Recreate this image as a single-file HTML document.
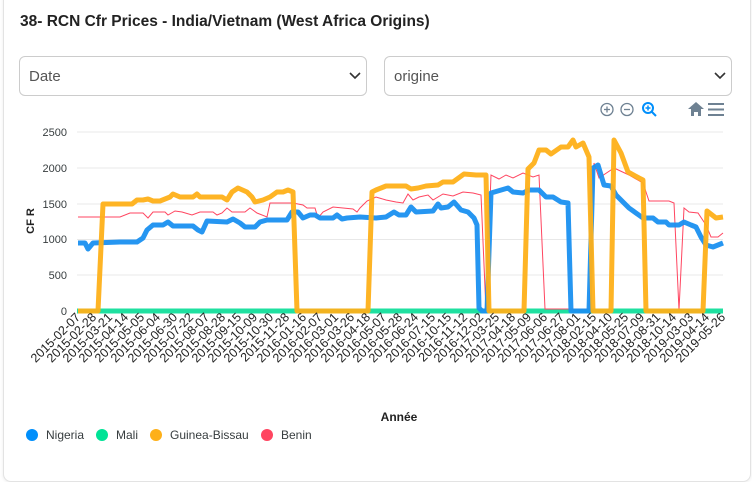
<!DOCTYPE html>
<html><head><meta charset="utf-8"><style>
body{margin:0;background:#fff;font-family:"Liberation Sans",sans-serif;}
.card{position:absolute;left:3px;top:-10px;width:746px;height:490px;border:1px solid #e3e3e3;border-radius:8px;box-shadow:0 1px 3px rgba(0,0,0,.08);background:#fff;}
.title{position:absolute;left:20px;top:13px;font-size:15.5px;font-weight:bold;color:#222;}
.sel{position:absolute;top:56px;height:40px;border:1px solid #ccc;border-radius:6px;box-sizing:border-box;font-size:15px;color:#555;padding:11px 9px;}
</style></head><body>
<div class="card"></div>
<div class="title">38- RCN Cfr Prices - India/Vietnam (West Africa Origins)</div>
<div class="sel" style="left:19px;width:348px">Date</div>
<div class="sel" style="left:384px;width:348px">origine</div>
<svg width="752" height="482" style="position:absolute;left:0;top:0" xmlns="http://www.w3.org/2000/svg" font-family="Liberation Sans, sans-serif">
<g stroke="#333" stroke-width="1.6" fill="none"><polyline points="350,73 355,78 360,73"/><polyline points="715,73 720,78 725,73"/></g>
<g stroke="#6e8192" stroke-width="1.3" fill="none">
<circle cx="607" cy="109.5" r="6"/><line x1="604" y1="109.5" x2="610" y2="109.5"/><line x1="607" y1="106.5" x2="607" y2="112.5"/>
<circle cx="627" cy="109.5" r="6"/><line x1="624" y1="109.5" x2="630" y2="109.5"/>
</g>
<g stroke="#008ffb" stroke-width="2" fill="none"><circle cx="648" cy="108" r="5"/><line x1="652" y1="112" x2="656" y2="116"/><line x1="645.5" y1="108" x2="650.5" y2="108" stroke-width="1.5"/><line x1="648" y1="105.5" x2="648" y2="110.5" stroke-width="1.5"/></g>
<path d="M688 109 L696 102 L704 109 L701 109 L701 116 L698 116 L698 112 L694 112 L694 116 L691 116 L691 109Z" fill="#6e8192"/>
<g stroke="#6e8192" stroke-width="2"><line x1="708" y1="104" x2="724" y2="104"/><line x1="708" y1="109.5" x2="724" y2="109.5"/><line x1="708" y1="115" x2="724" y2="115"/></g>
<g stroke="#e8e8e8" stroke-width="1">
<line x1="77" y1="132" x2="723" y2="132"/><line x1="77" y1="168" x2="723" y2="168"/><line x1="77" y1="204" x2="723" y2="204"/><line x1="77" y1="239.5" x2="723" y2="239.5"/><line x1="77" y1="275" x2="723" y2="275"/>
</g>
<g font-size="11" fill="#373d3f" text-anchor="end">
<text x="67" y="136">2500</text><text x="67" y="172">2000</text><text x="67" y="208">1500</text><text x="67" y="243">1000</text><text x="67" y="279">500</text><text x="67" y="315">0</text>
</g>
<text transform="translate(34,221) rotate(-90)" font-size="11" font-weight="bold" text-anchor="middle" fill="#222">CF R</text>
<line x1="77" y1="311" x2="723" y2="311" stroke="#1fe0a0" stroke-width="5"/>
<polyline fill="none" stroke="#ff4560" stroke-width="1" points="78,217 120,217 130,213 143,213 148,218 153,212 165,212 168,215 175,211 182,212 192,215 200,212 213,212 217,215 222,213 227,208 232,212 245,212 250,208 257,213 267,217 270,203 293,203 303,205 307,208 315,208 318,218 323,212 333,207 343,208 353,209 357,212 360,208 367,201 376,197 386,200 396,202 403,203 408,194 413,200 419,197 428,195 433,200 443,194 453,196 463,192 473,193 481,195 486,311 491,175 499,179 506,175 513,178 523,173 533,177 539,175 545,309 589,309 594,163 599,178 614,168 629,175 643,183 649,201 669,201 674,203 679,310 684,208 689,212 698,213 706,225 711,237 718,237 723,233"/>
<polyline fill="none" stroke="#1a90f0" stroke-width="5" stroke-linejoin="round" opacity="0.95" points="78,243 85,243 88,249 93,243 120,242 137,242 143,238 147,230 153,225 163,225 168,222 173,226 193,226 198,230 202,232 207,221 227,222 233,219 240,223 245,227 255,227 260,222 267,220 287,220 292,212 298,212 303,218 310,215 315,215 320,218 333,218 337,215 342,219 347,218 360,217 376,218 386,217 394,212 399,215 406,215 411,207 416,212 433,211 438,204 441,208 448,207 454,202 461,210 468,212 474,218 477,225 479,308 482,311 487,311 491,193 508,188 513,192 523,193 529,190 539,190 546,197 553,197 561,202 568,203 571,311 589,311 593,168 598,165 604,185 611,186 616,195 629,208 643,218 653,218 658,222 666,222 669,225 679,225 684,222 691,225 696,227 701,237 706,245 713,247 723,243"/>
<polyline fill="none" stroke="#feb019" stroke-width="5" stroke-linejoin="round" opacity="0.95" points="78,311 98,311 103,204 132,204 137,200 143,200 148,199 153,201 160,201 170,197 173,194 180,197 193,197 197,194 200,197 222,197 227,200 232,192 238,188 247,192 252,197 255,202 263,200 270,197 277,192 283,192 288,190 293,192 297,311 368,311 372,192 376,190 386,186 406,186 411,189 418,188 426,186 438,185 443,182 453,182 464,174 476,175 486,175 489,311 524,311 528,169 534,163 539,150 546,150 551,154 561,147 568,147 573,140 576,147 583,143 589,157 593,311 611,311 614,140 621,153 628,172 639,178 643,180 646,311 703,311 707,211 716,218 723,217"/>
<text x="399" y="421" font-size="12" font-weight="bold" text-anchor="middle" fill="#222">Année</text>
<g font-size="12" fill="#373d3f">
<circle cx="32" cy="435" r="6" fill="#008ffb"/><text x="46" y="439">Nigeria</text>
<circle cx="102" cy="435" r="6" fill="#00e396"/><text x="116" y="439">Mali</text>
<circle cx="156" cy="435" r="6" fill="#feb019"/><text x="170" y="439">Guinea-Bissau</text>
<circle cx="267" cy="435" r="6" fill="#ff4560"/><text x="281" y="439">Benin</text>
</g>
<g font-size="12.5" fill="#222" text-anchor="end">
<text transform="translate(81,318) rotate(-45)">2015-02-07</text>
<text transform="translate(97,318) rotate(-45)">2015-02-28</text>
<text transform="translate(113,318) rotate(-45)">2015-03-21</text>
<text transform="translate(129,318) rotate(-45)">2015-04-14</text>
<text transform="translate(145,318) rotate(-45)">2015-05-05</text>
<text transform="translate(161,318) rotate(-45)">2015-06-04</text>
<text transform="translate(178,318) rotate(-45)">2015-06-30</text>
<text transform="translate(194,318) rotate(-45)">2015-07-22</text>
<text transform="translate(210,318) rotate(-45)">2015-08-07</text>
<text transform="translate(226,318) rotate(-45)">2015-08-28</text>
<text transform="translate(242,318) rotate(-45)">2015-09-15</text>
<text transform="translate(258,318) rotate(-45)">2015-10-09</text>
<text transform="translate(274,318) rotate(-45)">2015-10-30</text>
<text transform="translate(290,318) rotate(-45)">2015-11-28</text>
<text transform="translate(307,318) rotate(-45)">2016-01-16</text>
<text transform="translate(323,318) rotate(-45)">2016-02-07</text>
<text transform="translate(339,318) rotate(-45)">2016-03-01</text>
<text transform="translate(355,318) rotate(-45)">2016-03-26</text>
<text transform="translate(371,318) rotate(-45)">2016-04-18</text>
<text transform="translate(387,318) rotate(-45)">2016-05-07</text>
<text transform="translate(403,318) rotate(-45)">2016-05-28</text>
<text transform="translate(419,318) rotate(-45)">2016-06-24</text>
<text transform="translate(436,318) rotate(-45)">2016-07-15</text>
<text transform="translate(452,318) rotate(-45)">2016-10-15</text>
<text transform="translate(468,318) rotate(-45)">2016-11-12</text>
<text transform="translate(484,318) rotate(-45)">2016-12-02</text>
<text transform="translate(500,318) rotate(-45)">2017-03-25</text>
<text transform="translate(516,318) rotate(-45)">2017-04-18</text>
<text transform="translate(532,318) rotate(-45)">2017-05-09</text>
<text transform="translate(548,318) rotate(-45)">2017-06-06</text>
<text transform="translate(565,318) rotate(-45)">2017-06-27</text>
<text transform="translate(581,318) rotate(-45)">2017-08-01</text>
<text transform="translate(597,318) rotate(-45)">2018-02-15</text>
<text transform="translate(613,318) rotate(-45)">2018-04-10</text>
<text transform="translate(629,318) rotate(-45)">2018-05-25</text>
<text transform="translate(645,318) rotate(-45)">2018-07-09</text>
<text transform="translate(661,318) rotate(-45)">2018-08-31</text>
<text transform="translate(677,318) rotate(-45)">2018-10-14</text>
<text transform="translate(694,318) rotate(-45)">2019-03-03</text>
<text transform="translate(710,318) rotate(-45)">2019-04-14</text>
<text transform="translate(726,318) rotate(-45)">2019-05-26</text>
</g>
</svg>
</body></html>
